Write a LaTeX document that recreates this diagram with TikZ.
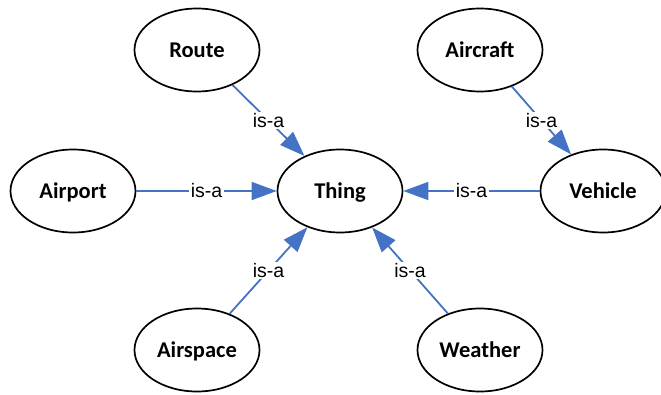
\documentclass[tikz,border=0pt]{standalone}
\usepackage{fontspec}
\usetikzlibrary{arrows.meta,shapes.geometric}
\newfontfamily\conceptfont{Carlito}
\newfontfamily\relfont{Liberation Sans}
\definecolor{linkblue}{HTML}{4472C4}
\tikzset{
  concept/.style={ellipse, draw=black, line width=1.7pt, fill=white,
    minimum width=125pt, minimum height=83pt, inner sep=0pt,
    text height=14.5pt, text depth=0pt,
    font=\conceptfont\bfseries\fontsize{22.5}{26}\selectfont},
  isa/.style={draw=linkblue, line width=1.8pt,
    -{Triangle[length=25pt,width=18pt]}},
  rellabel/.style={fill=white, inner sep=1.5pt, text=black,
    font=\relfont\fontsize{19.5}{22}\selectfont}
}
\begin{document}
\begin{tikzpicture}[x=1pt,y=-1pt]
  \useasboundingbox (0,0) rectangle (661,394);
  \node[concept] (route)    at (197,50)  {Route};
  \node[concept] (aircraft) at (480,50)  {Aircraft};
  \node[concept] (airport)  at (73,191)  {Airport};
  \node[concept] (thing)    at (340,191) {Thing};
  \node[concept] (vehicle)  at (603,191) {Vehicle};
  \node[concept] (airspace) at (197,350) {Airspace};
  \node[concept] (weather)  at (480,350) {Weather};

  \draw[isa] (route)    -- node[rellabel] {is-a} (thing);
  \draw[isa] (airport)  -- node[rellabel] {is-a} (thing);
  \draw[isa] (aircraft) -- node[rellabel] {is-a} (vehicle);
  \draw[isa] (vehicle)  -- node[rellabel] {is-a} (thing);
  \draw[isa] (airspace) -- node[rellabel] {is-a} (thing);
  \draw[isa] (weather)  -- node[rellabel] {is-a} (thing);
\end{tikzpicture}
\end{document}
